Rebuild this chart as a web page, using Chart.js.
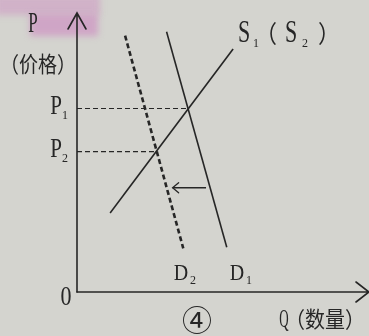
<!DOCTYPE html>
<html>
<head>
<meta charset="utf-8">
<script src="https://cdn.jsdelivr.net/npm/chart.js@4"></script>
<style>
  html, body { margin: 0; padding: 0; background: #d4d4cf; }
  #c { display: block; }
</style>
</head>
<body>
<canvas id="c" width="369" height="336"></canvas>
<script>
// ---- data (quantity Q on x, price P on y; 0..10 units) ----
const supplyQ = [1.15, 5.42];
const supplyP = [2.84, 8.74];
const demand1Q = [3.11, 5.20];
const demand1P = [9.36, 1.61];
const demand2Q = [1.67, 3.69];
const demand2P = [9.22, 1.57];
const priceLevels = [6.60, 5.05];          // P1, P2
const equilibriumQ = [3.86, 2.77];         // where P1 / P2 guides end
const priceLabelSubs = ['1', '2'];
const shiftFromQ = 4.48, shiftToQ = 3.32, shiftP = 3.75;
const yTitle = 'P', yTitleNote = '（价格）';
const xTitle = 'Q', xTitleNote = '（数量）';
const originLabel = '0';
const panelLabel = '④';

const INK = '#262626';
const SERIF = '"Liberation Serif", "DejaVu Serif", serif';
const CJK = '"Noto Sans CJK SC", sans-serif';

function pts(qs, ps) { return qs.map((q, i) => ({ x: q, y: ps[i] })); }

const datasets = [
  { data: pts(supplyQ, supplyP), borderColor: INK, borderWidth: 1.6 },
  { data: pts(demand1Q, demand1P), borderColor: INK, borderWidth: 1.6 },
  { data: pts(demand2Q, demand2P), borderColor: INK, borderWidth: 2.6, borderDash: [5, 3] },
  { data: [{ x: 0, y: priceLevels[0] }, { x: equilibriumQ[0], y: priceLevels[0] }], borderColor: INK, borderWidth: 1.2, borderDash: [5, 3] },
  { data: [{ x: 0, y: priceLevels[1] }, { x: equilibriumQ[1], y: priceLevels[1] }], borderColor: INK, borderWidth: 1.2, borderDash: [5, 3] },
  { data: [{ x: shiftFromQ, y: shiftP }, { x: shiftToQ, y: shiftP }], borderColor: INK, borderWidth: 1.3 }
].map(d => Object.assign({ showLine: true, pointRadius: 0, fill: false, tension: 0 }, d));

function txt(ctx, s, x, y, size, family, sx, sy, align) {
  ctx.save();
  ctx.translate(x, y);
  ctx.scale(sx || 1, sy || 1);
  ctx.font = size + 'px ' + family;
  ctx.textAlign = align || 'left';
  ctx.textBaseline = 'alphabetic';
  ctx.fillStyle = INK;
  ctx.fillText(s, 0, 0);
  ctx.restore();
}

const paper = {
  id: 'paper',
  beforeDraw(chart) {
    const ctx = chart.ctx;
    ctx.save();
    ctx.fillStyle = '#d4d4cf';
    ctx.fillRect(0, 0, chart.width, chart.height);
    ctx.filter = 'blur(3px)';
    ctx.fillStyle = 'rgba(205,150,195,0.55)';
    ctx.fillRect(-5, -5, 105, 20);
    ctx.fillStyle = 'rgba(205,150,195,0.75)';
    ctx.fillRect(30, 14, 68, 22);
    ctx.restore();
  }
};

const decor = {
  id: 'decor',
  afterDatasetsDraw(chart) {
    const ctx = chart.ctx;
    const xs = chart.scales.x, ys = chart.scales.y;
    const x0 = xs.getPixelForValue(0), y0 = ys.getPixelForValue(0);
    ctx.save();
    ctx.strokeStyle = INK;
    ctx.lineWidth = 1.6;
    ctx.lineCap = 'round';
    // y axis with open arrow
    const yTop = ys.top - 1;
    ctx.beginPath();
    ctx.moveTo(x0, y0); ctx.lineTo(x0, yTop);
    ctx.moveTo(x0 - 9, yTop + 16); ctx.lineTo(x0, yTop); ctx.lineTo(x0 + 9, yTop + 16);
    ctx.stroke();
    // x axis with open arrow
    const xEnd = xs.right + 4;
    ctx.beginPath();
    ctx.moveTo(x0, y0); ctx.lineTo(xEnd, y0);
    ctx.moveTo(xEnd - 13, y0 - 10); ctx.lineTo(xEnd, y0); ctx.lineTo(xEnd - 13, y0 + 10);
    ctx.stroke();
    // shift arrow head
    const ax = xs.getPixelForValue(shiftToQ), ay = ys.getPixelForValue(shiftP);
    ctx.lineWidth = 1.3;
    ctx.beginPath();
    ctx.moveTo(ax + 6, ay - 5); ctx.lineTo(ax, ay); ctx.lineTo(ax + 6, ay + 5);
    ctx.stroke();
    ctx.restore();

    // axis titles
    txt(ctx, yTitle, 33, 32, 20, SERIF, 0.85, 1.5, 'center');
    txt(ctx, yTitleNote, 38, 72, 19, CJK, 1, 1.15, 'center');
    txt(ctx, xTitle, 284, 327, 20, SERIF, 0.65, 1.3, 'center');
    txt(ctx, xTitleNote, 325, 327, 20, CJK, 1, 1.1, 'center');
    txt(ctx, originLabel, 66, 305, 22, SERIF, 1, 1.25, 'center');
    txt(ctx, panelLabel, 197, 331, 30, CJK, 1, 1, 'center');

    // price labels
    priceLevels.forEach((p, i) => {
      const py = ys.getPixelForValue(p);
      txt(ctx, 'P', 56, py + 5, 21, SERIF, 1, 1.35, 'center');
      txt(ctx, priceLabelSubs[i], 65, py + 10, 12, SERIF, 1, 1.1, 'center');
    });

    // curve labels
    txt(ctx, 'S', 244, 42, 22, SERIF, 1, 1.4, 'center');
    txt(ctx, '1', 256, 47, 12, SERIF, 1, 1.1, 'center');
    txt(ctx, '（', 266, 42, 22, CJK, 1, 1.1, 'center');
    txt(ctx, 'S', 291, 42, 22, SERIF, 1, 1.4, 'center');
    txt(ctx, '2', 305, 47, 12, SERIF, 1, 1.1, 'center');
    txt(ctx, '）', 329, 42, 22, CJK, 1, 1.1, 'center');

    txt(ctx, 'D', 181, 280, 20, SERIF, 1, 1.2, 'center');
    txt(ctx, '2', 193, 284, 12, SERIF, 1, 1.1, 'center');
    txt(ctx, 'D', 237, 280, 20, SERIF, 1, 1.2, 'center');
    txt(ctx, '1', 249, 284, 12, SERIF, 1, 1.1, 'center');
  }
};

new Chart(document.getElementById('c'), {
  type: 'scatter',
  data: { datasets },
  options: {
    responsive: false,
    animation: false,
    devicePixelRatio: 1,
    layout: { padding: { left: 77, right: 4, top: 14, bottom: 44 } },
    scales: {
      x: { type: 'linear', min: 0, max: 10, display: false },
      y: { type: 'linear', min: 0, max: 10, display: false }
    },
    plugins: { legend: { display: false }, tooltip: { enabled: false } }
  },
  plugins: [paper, decor]
});
</script>
</body>
</html>
